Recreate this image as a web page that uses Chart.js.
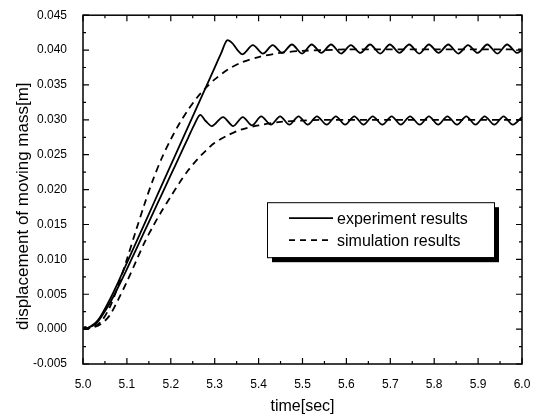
<!DOCTYPE html>
<html>
<head>
<meta charset="utf-8">
<script src="https://cdn.jsdelivr.net/npm/chart.js@4.4.1/dist/chart.umd.min.js"></script>
<style>
  html, body { margin: 0; padding: 0; background: #fff; }
  canvas { display: block; }
</style>
</head>
<body>
<canvas id="chart" width="543" height="416"></canvas>
<script>
// measured response, 0.04 m step
const exp40Time = [5.000, 5.005, 5.010, 5.015, 5.020, 5.030, 5.040, 5.060, 5.080, 5.100,
  5.120, 5.140, 5.160, 5.180, 5.200, 5.220, 5.240, 5.260, 5.280, 5.300,
  5.315, 5.328, 5.340, 5.352, 5.364,
  5.387, 5.410, 5.432, 5.454, 5.476, 5.499, 5.521, 5.543, 5.565, 5.588,
  5.610, 5.632, 5.654, 5.677, 5.699, 5.721, 5.743, 5.766, 5.788, 5.810,
  5.832, 5.855, 5.877, 5.899, 5.921, 5.944, 5.966, 5.988, 6.000];
const exp40Disp = [0.0000, 0.0003, 0.0001, 0.0003, 0.0005, 0.0010, 0.0018, 0.0041, 0.0067, 0.0095,
  0.0123, 0.0151, 0.0179, 0.0207, 0.0235, 0.0263, 0.0291, 0.0319, 0.0347, 0.0375,
  0.0396, 0.0414, 0.0410, 0.0400, 0.0394,
  0.0407, 0.0395, 0.0407, 0.0396, 0.0408, 0.0395, 0.0408, 0.0396, 0.0408, 0.0395,
  0.0407, 0.0396, 0.0408, 0.0395, 0.0408, 0.0396, 0.0408, 0.0395, 0.0408, 0.0396,
  0.0408, 0.0395, 0.0407, 0.0396, 0.0408, 0.0395, 0.0408, 0.0396, 0.0400];

// measured response, 0.03 m step
const exp30Time = [5.000, 5.005, 5.010, 5.015, 5.020, 5.030, 5.040, 5.060, 5.080, 5.100,
  5.120, 5.140, 5.160, 5.180, 5.200, 5.220, 5.240, 5.255, 5.267, 5.280,
  5.294, 5.319, 5.342, 5.364, 5.385, 5.406, 5.428, 5.449, 5.470, 5.491,
  5.512, 5.533, 5.555, 5.576, 5.597, 5.618, 5.639, 5.660, 5.682, 5.703,
  5.724, 5.745, 5.767, 5.788, 5.809, 5.830, 5.852, 5.873, 5.894, 5.915,
  5.937, 5.958, 5.979, 6.000];
const exp30Disp = [0.0001, 0.0003, 0.0001, 0.0003, 0.0004, 0.0008, 0.0016, 0.0036, 0.0060, 0.0086,
  0.0113, 0.0140, 0.0167, 0.0194, 0.0221, 0.0248, 0.0275, 0.0295, 0.0307, 0.0298,
  0.0291, 0.0304, 0.0291, 0.0304, 0.0292, 0.0305, 0.0293, 0.0305, 0.0293, 0.0305,
  0.0293, 0.0305, 0.0293, 0.0305, 0.0293, 0.0305, 0.0293, 0.0305, 0.0293, 0.0305,
  0.0293, 0.0305, 0.0293, 0.0305, 0.0293, 0.0305, 0.0293, 0.0305, 0.0293, 0.0305,
  0.0293, 0.0305, 0.0293, 0.0304];

// simulated responses
const simTime = [5.00, 5.02, 5.04, 5.06, 5.08, 5.10, 5.12, 5.14, 5.16, 5.18,
  5.20, 5.22, 5.24, 5.26, 5.28, 5.30, 5.33, 5.36, 5.40, 5.45,
  5.50, 5.55, 5.60, 5.70, 5.80, 5.90, 6.00];
const sim40Disp = [0.0000, 0.0002, 0.0010, 0.0030, 0.0062, 0.0100, 0.0140, 0.0179, 0.0215, 0.0246,
  0.0272, 0.0295, 0.0315, 0.0332, 0.0346, 0.0358, 0.0372, 0.0382, 0.0390, 0.0396,
  0.0399, 0.0400, 0.0401, 0.0401, 0.0401, 0.0401, 0.0401];
const sim30Disp = [0.0000, 0.0002, 0.0007, 0.0019, 0.0042, 0.0068, 0.0096, 0.0124, 0.0148, 0.0170,
  0.0190, 0.0210, 0.0228, 0.0243, 0.0256, 0.0267, 0.0278, 0.0286, 0.0292, 0.0297,
  0.0299, 0.0300, 0.0300, 0.0300, 0.0300, 0.0300, 0.0300];

const legendLabels = ['experiment results', 'simulation results'];
const yTitle = 'displacement of moving mass[m]';
const FONT = '"Liberation Sans", Arial, sans-serif';

function pairs(xs, ys) {
  return xs.map((t, i) => ({ x: t, y: ys[i] }));
}

const solid = { borderColor: '#000', borderWidth: 1.8, pointRadius: 0, tension: 0.3, fill: false };
const dashed = { borderColor: '#000', borderWidth: 1.8, pointRadius: 0, tension: 0.3, fill: false, borderDash: [7, 5] };

// frame with inward ticks on all four sides, plus the rotated y title
const frameTicks = {
  id: 'frameTicks',
  afterDatasetsDraw(chart) {
    const { ctx, chartArea: a, scales: { x, y } } = chart;
    ctx.save();
    ctx.strokeStyle = '#000';
    ctx.lineWidth = 1.5;
    ctx.strokeRect(a.left, a.top, a.right - a.left, a.bottom - a.top);
    ctx.lineWidth = 1.2;
    ctx.beginPath();
    const xs = x.ticks.map(t => x.getPixelForValue(t.value));
    xs.forEach((px, i) => {
      ctx.moveTo(px, a.bottom); ctx.lineTo(px, a.bottom - 6);
      ctx.moveTo(px, a.top); ctx.lineTo(px, a.top + 6);
      if (i < xs.length - 1) {
        const m = (px + xs[i + 1]) / 2;
        ctx.moveTo(m, a.bottom); ctx.lineTo(m, a.bottom - 3);
        ctx.moveTo(m, a.top); ctx.lineTo(m, a.top + 3);
      }
    });
    const ys = y.ticks.map(t => y.getPixelForValue(t.value));
    ys.forEach((py, i) => {
      ctx.moveTo(a.left, py); ctx.lineTo(a.left + 6, py);
      ctx.moveTo(a.right, py); ctx.lineTo(a.right - 6, py);
      if (i < ys.length - 1) {
        const m = (py + ys[i + 1]) / 2;
        ctx.moveTo(a.left, m); ctx.lineTo(a.left + 3, m);
        ctx.moveTo(a.right, m); ctx.lineTo(a.right - 3, m);
      }
    });
    ctx.stroke();

    ctx.translate(23, a.top + 191);
    ctx.rotate(-Math.PI / 2);
    ctx.fillStyle = '#000';
    ctx.font = '17px ' + FONT;
    ctx.textAlign = 'center';
    ctx.textBaseline = 'middle';
    ctx.fillText(yTitle, 0, 0);
    ctx.restore();
  }
};

// boxed legend with a drop shadow
const boxLegend = {
  id: 'boxLegend',
  afterDraw(chart) {
    const { ctx, chartArea: a } = chart;
    const bx = a.left + 184, by = a.top + 187, bw = 227, bh = 55;
    ctx.save();
    ctx.fillStyle = '#000';
    ctx.fillRect(bx + 5, by + 5, bw, bh);
    ctx.fillStyle = '#fff';
    ctx.fillRect(bx, by, bw, bh);
    ctx.strokeStyle = '#000';
    ctx.lineWidth = 1;
    ctx.strokeRect(bx + 0.5, by + 0.5, bw, bh);
    ctx.lineWidth = 1.8;
    [0, 1].forEach(i => {
      const ly = by + 16 + i * 22;
      ctx.setLineDash(i ? [6, 5] : []);
      ctx.beginPath();
      ctx.moveTo(bx + 22, ly);
      ctx.lineTo(bx + 66, ly);
      ctx.stroke();
      ctx.fillStyle = '#000';
      ctx.font = '16px ' + FONT;
      ctx.textBaseline = 'middle';
      ctx.fillText(legendLabels[i], bx + 70, ly + 1);
    });
    ctx.restore();
  }
};

const ctx = document.getElementById('chart').getContext('2d');
new Chart(ctx, {
  type: 'line',
  data: {
    datasets: [
      Object.assign({ label: legendLabels[0], data: pairs(exp40Time, exp40Disp) }, solid),
      Object.assign({ label: legendLabels[0], data: pairs(exp30Time, exp30Disp) }, solid),
      Object.assign({ label: legendLabels[1], data: pairs(simTime, sim40Disp) }, dashed),
      Object.assign({ label: legendLabels[1], data: pairs(simTime, sim30Disp) }, dashed)
    ]
  },
  options: {
    responsive: false,
    animation: false,
    layout: { padding: { top: 14, right: 21, left: 0, bottom: 0 } },
    plugins: { legend: { display: false }, tooltip: { enabled: false } },
    scales: {
      x: {
        type: 'linear',
        min: 5.0,
        max: 6.0,
        afterFit: s => { s.height = 52; },
        grid: { display: false },
        border: { display: false },
        ticks: {
          stepSize: 0.1,
          color: '#000',
          padding: 5,
          maxRotation: 0,
          font: { family: FONT, size: 12 },
          callback: v => v.toFixed(1)
        },
        title: {
          display: true,
          text: 'time[sec]',
          color: '#000',
          padding: { top: 0, bottom: 0 },
          font: { family: FONT, size: 16 }
        }
      },
      y: {
        min: -0.005,
        max: 0.045,
        afterFit: s => { s.width = 83; },
        grid: { display: false },
        border: { display: false },
        ticks: {
          stepSize: 0.005,
          color: '#000',
          padding: 8,
          font: { family: FONT, size: 12 },
          callback: v => (Math.abs(v) < 1e-9 ? 0 : v).toFixed(3)
        }
      }
    }
  },
  plugins: [frameTicks, boxLegend]
});
</script>
</body>
</html>
